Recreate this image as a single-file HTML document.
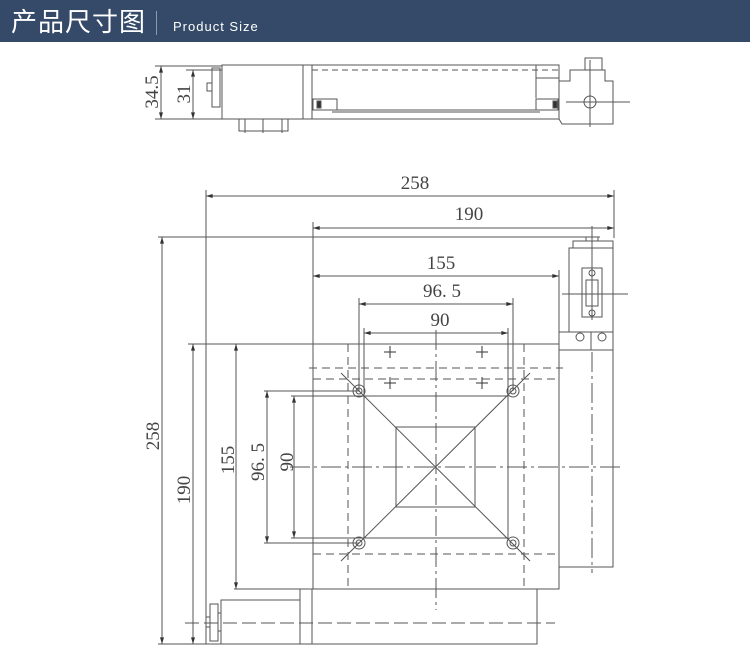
<!DOCTYPE html>
<html><head><meta charset="utf-8"><style>
body{margin:0;width:750px;height:672px;background:#fff;overflow:hidden;position:relative}
.hd{position:absolute;left:0;top:0;width:750px;height:42px;background:#344a68}
.hd .cn{position:absolute;left:11px;top:5px;color:#fff;font:26px "Noto Sans CJK SC",sans-serif;letter-spacing:1px;line-height:32px}
.hd .bar{position:absolute;left:156px;top:11px;width:1px;height:24px;background:#8a9ab0}
.hd .en{position:absolute;left:173px;top:19px;color:#fff;font:13px "Liberation Sans",sans-serif;letter-spacing:1px}
svg{position:absolute;left:0;top:0}
text{font-family:"Liberation Serif",serif;font-size:19px;fill:#444;stroke:none}
</style></head><body>
<div class="hd"><span class="cn">产品尺寸图</span><div class="bar"></div><span class="en">Product Size</span></div>
<svg width="750" height="672" viewBox="0 0 750 672" fill="none" stroke="#555" stroke-width="1">
<defs><marker id="a" viewBox="0 0 10 6" refX="10" refY="3" markerWidth="8" markerHeight="4" orient="auto-start-reverse"><path d="M0 0L10 3L0 6z" fill="#333" stroke="none"/></marker></defs>
<!-- top view -->
<line x1="155" y1="66" x2="222" y2="66"/><line x1="186" y1="70" x2="222" y2="70"/><line x1="155" y1="119" x2="222" y2="119"/>
<line x1="161" y1="66" x2="161" y2="119" marker-start="url(#a)" marker-end="url(#a)"/><line x1="193" y1="70" x2="193" y2="119" marker-start="url(#a)" marker-end="url(#a)"/>
<text transform="translate(158,92) rotate(-90)" text-anchor="middle">34.5</text>
<text transform="translate(190,94) rotate(-90)" text-anchor="middle">31</text>
<rect x="212" y="68" width="8" height="39"/><rect x="207" y="83" width="5" height="8"/>
<rect x="222" y="65" width="90" height="54"/><line x1="303" y1="65" x2="303" y2="119"/>
<rect x="312" y="65" width="247" height="54"/>
<line x1="312" y1="70" x2="559" y2="70" stroke-dasharray="6,4"/>
<line x1="536" y1="65" x2="536" y2="98"/><line x1="536" y1="78" x2="559" y2="78"/>
<rect x="313" y="99" width="24" height="11"/><rect x="536" y="99" width="22" height="11"/>
<line x1="332" y1="110" x2="540" y2="110"/><line x1="332" y1="112" x2="540" y2="112"/>
<rect x="317" y="101" width="4" height="7" fill="#333"/><rect x="553" y="101" width="4" height="7" fill="#333"/>
<rect x="239" y="119" width="49" height="12"/><line x1="245" y1="119" x2="245" y2="133"/><line x1="282" y1="119" x2="282" y2="133"/><line x1="263" y1="119" x2="263" y2="133"/>
<polyline points="559,119 562,124 613,124 613,81 605,81 605,70 570,70 570,81 559,81"/>
<rect x="585" y="58" width="17" height="12"/>
<circle cx="590" cy="102" r="6"/>
<line x1="566" y1="102" x2="630" y2="102"/><line x1="590" y1="60" x2="590" y2="127"/>
<!-- main view dims -->
<line x1="206" y1="190" x2="206" y2="644"/><line x1="614" y1="190" x2="614" y2="238"/>
<line x1="206" y1="196" x2="614" y2="196" marker-start="url(#a)" marker-end="url(#a)"/><text x="415" y="189" text-anchor="middle">258</text>
<line x1="313" y1="222" x2="313" y2="344"/>
<line x1="313" y1="228" x2="614" y2="228" marker-start="url(#a)" marker-end="url(#a)"/><text x="469" y="220" text-anchor="middle">190</text>
<line x1="313" y1="276" x2="559" y2="276" marker-start="url(#a)" marker-end="url(#a)"/><line x1="559" y1="270" x2="559" y2="344"/><text x="441" y="269" text-anchor="middle">155</text>
<line x1="359" y1="298" x2="359" y2="391"/><line x1="513" y1="298" x2="513" y2="391"/>
<line x1="359" y1="304" x2="513" y2="304" marker-start="url(#a)" marker-end="url(#a)"/><text x="442" y="297" text-anchor="middle">96. 5</text>
<line x1="364" y1="328" x2="364" y2="396"/><line x1="508" y1="328" x2="508" y2="396"/>
<line x1="364" y1="333" x2="508" y2="333" marker-start="url(#a)" marker-end="url(#a)"/><text x="440" y="326" text-anchor="middle">90</text>
<line x1="158" y1="237" x2="600" y2="237"/>
<line x1="162" y1="237" x2="162" y2="644" marker-start="url(#a)" marker-end="url(#a)"/><text transform="translate(159,436) rotate(-90)" text-anchor="middle">258</text>
<line x1="188" y1="344" x2="559" y2="344"/>
<line x1="193" y1="344" x2="193" y2="644" marker-start="url(#a)" marker-end="url(#a)"/><text transform="translate(190,490) rotate(-90)" text-anchor="middle">190</text>
<line x1="236" y1="344" x2="236" y2="589" marker-start="url(#a)" marker-end="url(#a)"/><text transform="translate(234,460) rotate(-90)" text-anchor="middle">155</text>
<line x1="264" y1="391" x2="359" y2="391"/><line x1="264" y1="543" x2="359" y2="543"/>
<line x1="267" y1="391" x2="267" y2="543" marker-start="url(#a)" marker-end="url(#a)"/><text transform="translate(264,462) rotate(-90)" text-anchor="middle">96. 5</text>
<line x1="291" y1="396" x2="364" y2="396"/><line x1="291" y1="538" x2="364" y2="538"/>
<line x1="294" y1="396" x2="294" y2="538" marker-start="url(#a)" marker-end="url(#a)"/><text transform="translate(293,462) rotate(-90)" text-anchor="middle">90</text>
<line x1="234" y1="589" x2="313" y2="589"/>
<!-- plate -->
<rect x="313" y="344" width="246" height="245"/>
<line x1="348" y1="344" x2="348" y2="589" stroke-dasharray="8,5"/><line x1="524" y1="344" x2="524" y2="589" stroke-dasharray="8,5"/>
<line x1="309" y1="368" x2="563" y2="368" stroke-dasharray="8,5"/><line x1="313" y1="379" x2="559" y2="379" stroke-dasharray="8,5"/>
<line x1="313" y1="554" x2="559" y2="554" stroke-dasharray="8,5"/>
<line x1="290" y1="467" x2="622" y2="467" stroke-dasharray="20,4,3,4"/>
<line x1="436" y1="330" x2="436" y2="610" stroke-dasharray="20,4,3,4"/>
<rect x="364" y="396" width="144" height="142"/>
<rect x="396" y="427" width="79" height="80"/>
<line x1="341" y1="373" x2="530" y2="561"/><line x1="530" y1="373" x2="341" y2="561"/>
<g><circle cx="359" cy="391" r="6"/><circle cx="359" cy="391" r="3"/><circle cx="513" cy="391" r="6"/><circle cx="513" cy="391" r="3"/>
<circle cx="359" cy="543" r="6"/><circle cx="359" cy="543" r="3"/><circle cx="513" cy="543" r="6"/><circle cx="513" cy="543" r="3"/></g>
<g stroke="#333"><path d="M384 352h12M390 346v12M476 352h12M482 346v12M384 383h12M390 377v12M476 383h12M482 377v12"/></g>
<!-- right module -->
<rect x="573" y="241" width="40" height="7"/><rect x="586" y="237" width="12" height="4"/>
<rect x="569" y="248" width="44" height="84"/>
<rect x="582" y="268" width="20" height="49"/><rect x="586" y="280" width="12" height="26"/>
<circle cx="592" cy="273" r="3"/><circle cx="592" cy="313" r="3"/>
<line x1="562" y1="294" x2="628" y2="294"/><line x1="592" y1="226" x2="592" y2="320"/>
<rect x="559" y="332" width="54" height="235"/><line x1="559" y1="350" x2="613" y2="350"/><line x1="591" y1="332" x2="591" y2="350"/>
<circle cx="580" cy="337" r="4"/><circle cx="602" cy="337" r="4"/>
<line x1="592" y1="352" x2="592" y2="573" stroke-dasharray="20,4,3,4"/>
<!-- bottom motor -->
<rect x="300" y="589" width="237" height="55"/><line x1="312" y1="589" x2="312" y2="644"/>
<rect x="221" y="600" width="79" height="44"/>
<rect x="210" y="604" width="8" height="37"/><rect x="206" y="617" width="4" height="10"/><line x1="218" y1="613" x2="221" y2="613"/><line x1="218" y1="631" x2="221" y2="631"/>
<line x1="185" y1="623" x2="555" y2="623" stroke-dasharray="14,5"/>
<line x1="158" y1="644" x2="537" y2="644"/>
</svg>
</body></html>
